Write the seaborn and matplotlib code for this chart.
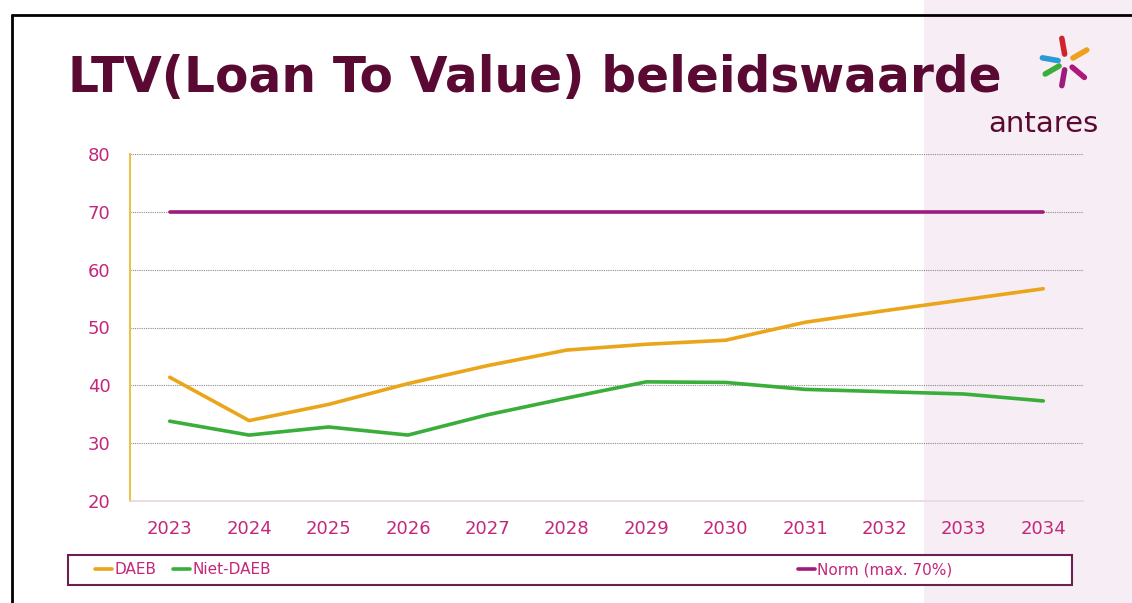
import numpy as np
import pandas as pd
import seaborn as sns
from matplotlib import pyplot as plt
from matplotlib.patches import Rectangle
from matplotlib.lines import Line2D

years = [str(y) for y in range(2023, 2035)]
daeb = [41.4, 33.9, 36.7, 40.3, 43.4, 46.1, 47.1, 47.8, 50.9, 52.9, 54.8, 56.7]
niet_daeb = [33.8, 31.4, 32.8, 31.4, 34.9, 37.8, 40.6, 40.5, 39.3, 38.9, 38.5, 37.3]
norm = [70] * 12
series_names = ["DAEB", "Niet-DAEB", "Norm (max. 70%)"]
colors = ["#eaa51a", "#3aae3a", "#9c1b7c"]

pink = "#c4267a"
maroon = "#5a0a32"

df = pd.DataFrame({
    "jaar": years * 3,
    "ltv": daeb + niet_daeb + norm,
    "reeks": [series_names[0]] * 12 + [series_names[1]] * 12 + [series_names[2]] * 12,
})

sns.set_style("white")
plt.rcParams["font.family"] = ["DejaVu Sans"]

fig = plt.figure(figsize=(11.32, 6.03), dpi=100)
fig.patch.set_facecolor("white")

# pale panel on the right, behind everything
fig.patches.append(Rectangle((924 / 1132, 0), 1, 1, transform=fig.transFigure,
                             facecolor="#f6eef4", edgecolor="none", zorder=-2))
# black frame (top and left)
fig.lines.append(Line2D([12 / 1132, 1], [1 - 15 / 603, 1 - 15 / 603], transform=fig.transFigure,
                        color="black", lw=2))
fig.lines.append(Line2D([12 / 1132, 12 / 1132], [0, 1 - 15 / 603], transform=fig.transFigure,
                        color="black", lw=2))
# legend box
fig.patches.append(Rectangle((68 / 1132, 1 - 585 / 603), 1004 / 1132, 30 / 603,
                             transform=fig.transFigure, facecolor="white",
                             edgecolor="#6a2050", lw=1.5, zorder=-1))

ax = fig.add_axes([130 / 1132, 1 - 501 / 603, 953 / 1132, 347 / 603])
ax.patch.set_alpha(0)

sns.lineplot(data=df, x="jaar", y="ltv", hue="reeks", palette=colors, lw=2.6,
             ax=ax, legend=False, sort=False)

ax.set_xlim(-0.5, 11.5)
ax.set_ylim(20, 80)
ax.set_yticks(range(20, 81, 10))
ax.set_xlabel("")
ax.set_ylabel("")
ax.tick_params(axis="both", colors=pink, labelsize=13, length=0)
ax.tick_params(axis="y", pad=14)
ax.tick_params(axis="x", pad=14)
for yv in range(30, 81, 10):
    ax.axhline(yv, color="#8a8a8a", lw=0.8, ls=(0, (1, 1)), zorder=0)
for s in ["top", "right"]:
    ax.spines[s].set_visible(False)
ax.spines["left"].set_color("#e8c44a")
ax.spines["left"].set_linewidth(1.5)
ax.spines["bottom"].set_color("#e8d6de")
ax.spines["bottom"].set_linewidth(1.2)

# legend
handles = [Line2D([], [], color=c, lw=2.6) for c in colors]
leg1 = ax.legend(handles[:2], series_names[:2], ncol=2, loc="center left",
                 bbox_to_anchor=(95 / 1132, 1 - 570 / 603), bbox_transform=fig.transFigure,
                 frameon=False, fontsize=11, handlelength=1.1, handletextpad=0.15,
                 columnspacing=1.1, borderpad=0, borderaxespad=0)
for t in leg1.get_texts():
    t.set_color(pink)
ax.add_artist(leg1)
leg2 = ax.legend(handles[2:], series_names[2:], loc="center left",
                 bbox_to_anchor=(798 / 1132, 1 - 570 / 603), bbox_transform=fig.transFigure,
                 frameon=False, fontsize=11, handlelength=1.1, handletextpad=0.15,
                 borderpad=0, borderaxespad=0)
for t in leg2.get_texts():
    t.set_color(pink)

# title and logo
fig.text(68 / 1132, 1 - 78 / 603, "LTV(Loan To Value) beleidswaarde", fontsize=35,
         fontweight="bold", color=maroon, va="center", ha="left")
fig.text(1098 / 1132, 1 - 124 / 603, "antares", fontsize=21, color=maroon,
         va="center", ha="right")
logo_c = (1066, 62)
arms = [(100, "#d2232a"), (30, "#f0a020"), (-40, "#b0177a"), (-100, "#9c1b7c"),
        (-150, "#3aae3a"), (170, "#2a9ad8")]
for ang, c in arms:
    a = np.deg2rad(ang)
    x0, y0 = logo_c[0] + 8 * np.cos(a), logo_c[1] - 8 * np.sin(a)
    x1, y1 = logo_c[0] + 24 * np.cos(a), logo_c[1] - 24 * np.sin(a)
    fig.lines.append(Line2D([x0 / 1132, x1 / 1132], [1 - y0 / 603, 1 - y1 / 603],
                            transform=fig.transFigure, color=c, lw=4,
                            solid_capstyle="round"))

fig.savefig("out.png", dpi=100)
